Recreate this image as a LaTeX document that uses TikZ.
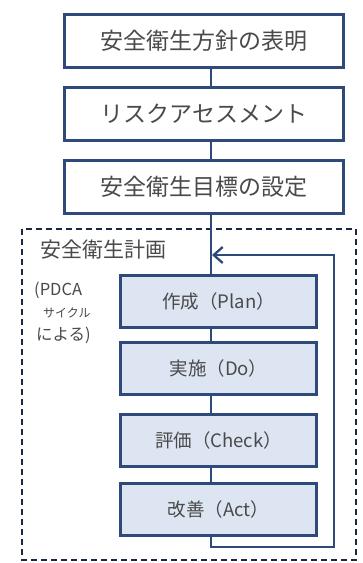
\documentclass[tikz,border=0pt]{standalone}
\usepackage{fontspec}
\setmainfont{Noto Sans CJK JP}
\newfontfamily\jp{Noto Sans CJK JP}
\usetikzlibrary{arrows.meta}
\definecolor{navy}{HTML}{2E4A7A}
\definecolor{lightfill}{HTML}{DCE5F1}
\definecolor{txt}{HTML}{4A4A4A}
\begin{document}
\begin{tikzpicture}[x=1pt,y=-1pt,
  topbox/.style={draw=navy,line width=3pt,fill=white,minimum width=279pt,minimum height=53pt,inner sep=0pt,text=txt,font=\jp\fontsize{23}{25}\selectfont},
  innerbox/.style={draw=navy,line width=3pt,fill=lightfill,minimum width=196pt,minimum height=52pt,inner sep=0pt,text=txt,font=\jp\fontsize{18.5}{21}\selectfont},
  link/.style={draw=navy,line width=2.3pt},
  frame/.style={draw=navy!55!black,line width=1.7pt,dash pattern=on 6pt off 4pt},
  lbl/.style={text=txt,inner sep=0pt,anchor=west}]
\useasboundingbox (0,0) rectangle (363,563);
\fill[white] (0,0) rectangle (363,563);
% dashed frame
\draw[frame] (22,229) rectangle (356,560);
% top boxes
\node[topbox] (b1) at (204,40.5) {安全衛生方針の表明};
\node[topbox] (b2) at (204,114) {リスクアセスメント};
\node[topbox] (b3) at (204,187) {安全衛生目標の設定};
% inner boxes
\node[innerbox] (p) at (218.5,301.5) {作成（Plan）};
\node[innerbox] (d) at (218.5,368.5) {実施（Do）};
\node[innerbox] (c) at (218.5,440.5) {評価（Check）};
\node[innerbox] (a) at (218.5,509.5) {改善（Act）};
% connectors
\coordinate (top) at (211,0);
\draw[link] (b1.south -| top) -- (b2.north -| top);
\draw[link] (b2.south -| top) -- (b3.north -| top);
\draw[link] (b3.south -| top) -- (p.north -| top);
\draw[link] (p.south -| top) -- (d.north -| top);
\draw[link] (d.south -| top) -- (c.north -| top);
\draw[link] (c.south -| top) -- (a.north -| top);
\coordinate (lb) at (211,547);
\coordinate (rb) at (334,547);
\coordinate (rt) at (334,255);
\coordinate (tip) at (212,255);
\draw[link,-{Straight Barb[length=9pt,width=16pt,line width=2.3pt]}] (a.south -| top) -- (lb) -- (rb) -- (rt) -- (tip);
% labels
\node[lbl,font=\jp\fontsize{21}{23}\selectfont] (t1) at (40,250) {安全衛生計画};
\node[lbl,font=\jp\fontsize{16.5}{18}\selectfont] (t2) at (34,290) {(PDCA};
\node[lbl,font=\jp\fontsize{12}{14}\selectfont] (t3) at (43,313) {サイクル};
\node[lbl,font=\jp\fontsize{16.5}{18}\selectfont] (t4) at (36,335) {による)};
\end{tikzpicture}
\end{document}
